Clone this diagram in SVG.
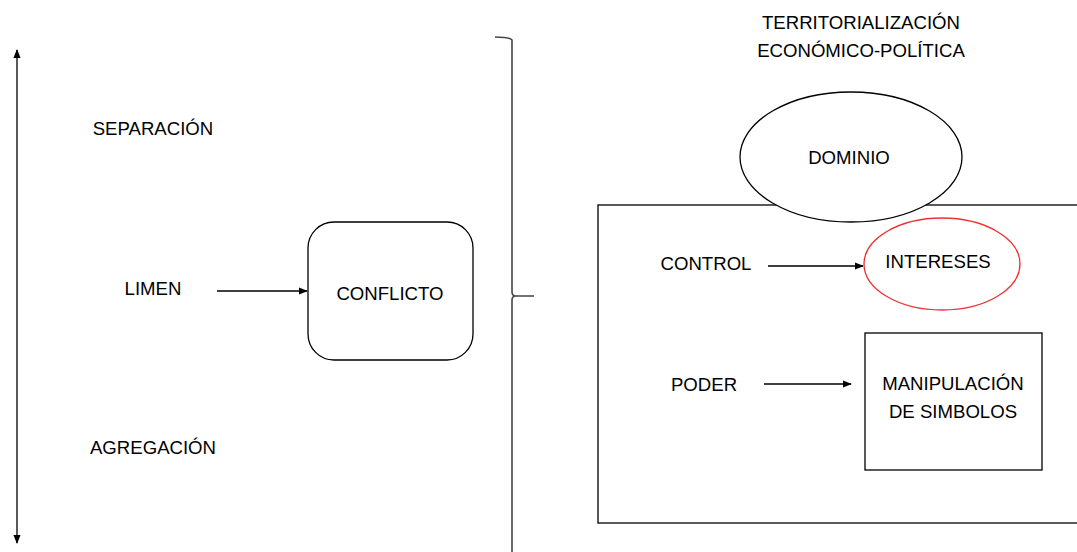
<svg xmlns="http://www.w3.org/2000/svg" width="1077" height="552" viewBox="0 0 1077 552">
<style>
text{font-family:"Liberation Sans",Arial,sans-serif;font-size:18.6px;fill:#000;text-anchor:middle}
.ln{stroke:#000;stroke-width:1.3;fill:none}
.shape{stroke:#000;stroke-width:1.3;fill:#fff}
</style>
<defs>
<marker id="ah" viewBox="0 0 10 10" refX="9" refY="5" markerWidth="9" markerHeight="9" markerUnits="userSpaceOnUse" orient="auto">
<path d="M0,1 L10,5 L0,9 Z" fill="#000"/>
</marker>
</defs>
<rect width="1077" height="552" fill="#fff"/>
<g id="frame"><rect class="shape" x="598" y="205" width="490" height="318"/></g>
<g id="connectors">
<line class="ln" x1="17" y1="296" x2="17" y2="50" marker-end="url(#ah)"/>
<line class="ln" x1="17" y1="296" x2="17" y2="543" marker-end="url(#ah)"/>
<path d="M495,37 Q510,37 512,40 L512,292 Q512,296 516,296 L534,296 M516,296 Q512,296 512,300 L512,560" stroke="#444" stroke-width="1.6" fill="none"/>
<line class="ln" x1="217" y1="291" x2="307" y2="291" marker-end="url(#ah)"/>
<line class="ln" x1="768" y1="266" x2="863" y2="266" marker-end="url(#ah)"/>
<line class="ln" x1="764" y1="384" x2="851" y2="384" marker-end="url(#ah)"/>
</g>
<g id="labels">
<text x="153" y="135">SEPARACIÓN</text>
<text x="153" y="295">LIMEN</text>
<text x="153" y="454">AGREGACIÓN</text>
<text x="706" y="270">CONTROL</text>
<text x="704" y="391">PODER</text>
<text x="861" y="29">TERRITORIALIZACIÓN</text>
<text x="861" y="57">ECONÓMICO-POLÍTICA</text>
</g>
<g id="conflicto"><rect class="shape" x="308" y="222" width="165" height="138" rx="26"/><text x="390" y="300">CONFLICTO</text></g>
<g id="dominio"><ellipse class="shape" cx="851" cy="157" rx="111" ry="65"/><text x="849" y="164">DOMINIO</text></g>
<g id="intereses"><ellipse cx="942" cy="264" rx="78" ry="46" fill="#fff" stroke="#f03030" stroke-width="1.3"/><text x="938" y="268">INTERESES</text></g>
<g id="manipulacion"><rect class="shape" x="865" y="333" width="177" height="137"/><text x="953" y="390">MANIPULACIÓN</text><text x="953" y="418">DE SIMBOLOS</text></g>
</svg>
